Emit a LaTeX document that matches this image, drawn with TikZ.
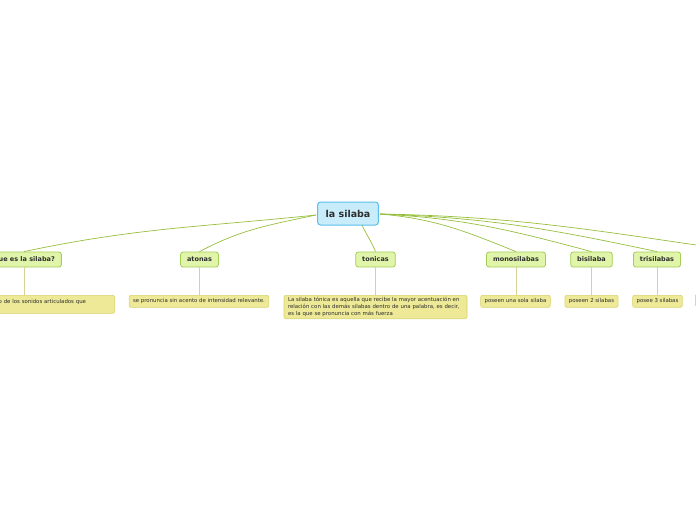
\documentclass[tikz,border=0pt]{standalone}
\usepackage{fontspec}
\setmainfont{DejaVu Sans}
\usetikzlibrary{positioning}
\definecolor{rootfill}{RGB}{200,236,250}
\definecolor{rootline}{RGB}{90,190,235}
\definecolor{topicfill}{RGB}{224,245,170}
\definecolor{topicline}{RGB}{165,205,85}
\definecolor{leaffill}{RGB}{237,233,150}
\definecolor{leafline}{RGB}{215,210,110}
\definecolor{branchgreen}{RGB}{150,190,60}
\definecolor{stemtan}{RGB}{215,210,150}
\definecolor{inktext}{RGB}{45,45,45}

\begin{document}
\begin{tikzpicture}[
    x=1pt, y=-1pt,
    every node/.style={text=inktext},
    raiz/.style={rectangle, rounded corners=3pt, draw=rootline, fill=rootfill,
        line width=1pt, inner xsep=8pt, minimum height=23pt,
        font=\fontsize{9.5}{11}\selectfont\bfseries},
    tema/.style={rectangle, rounded corners=2.5pt, draw=topicline, fill=topicfill,
        line width=0.8pt, inner xsep=6.5pt, minimum height=15pt,
        font=\fontsize{6.5}{8}\selectfont\bfseries},
    hoja/.style={rectangle, rounded corners=2pt, draw=leafline, fill=leaffill,
        line width=0.6pt, inner xsep=4pt, inner ysep=2pt, minimum height=12pt,
        font=\fontsize{5.4}{7}\selectfont, anchor=north},
    rama/.style={draw=branchgreen, line width=0.7pt},
    tallo/.style={draw=stemtan, line width=0.7pt},
]
\useasboundingbox (0,0) rectangle (696,520);
\clip (0,0) rectangle (696,520);

% ====== BRANCH ENDS ======
\coordinate (R-w) at (316,215);
\coordinate (R-e) at (380,214);
\coordinate (R-s) at (362,225);
\coordinate (extra) at (745,252);

% ====== TOPICS ======
\node[tema] (que)    at (24,259.5)    {Que es la silaba?};
\node[tema] (atonas) at (199.5,259.5) {atonas};
\node[tema] (tonicas) at (375.5,259.5) {tonicas};
\node[tema] (mono)   at (516,259.5)   {monosilabas};
\node[tema] (bi)     at (591.5,259.5) {bisilaba};
\node[tema] (tri)    at (657,259.5)   {trisilabas};

% ====== LEAVES ======
\node[hoja, anchor=north east, text width=112pt, align=left,
      text height=6pt, text depth=8pt] (que-h) at (115,295)
    {o de los sonidos articulados que};
\node[hoja] (atonas-h) at (199,295)
    {se pronuncia sin acento de intensidad relevante.};
\node[hoja, text width=175pt, align=left] (tonicas-h) at (375.5,295)
    {La silaba tónica es aquella que recibe la mayor acentuación en
     relación con las demás silabas dentro de una palabra, es decir,
     es la que se pronuncia con más fuerza};
\node[hoja] (mono-h) at (515.5,295) {poseen una sola silaba};
\node[hoja] (bi-h)   at (591.5,295) {poseen 2 silabas};
\node[hoja] (tri-h)  at (657.5,295) {posee 3 silabas};
\node[hoja, anchor=north west, minimum width=60pt] (extra-h) at (695,294) {};

\foreach \a/\b in {que/que-h, atonas/atonas-h, tonicas/tonicas-h,
    mono/mono-h, bi/bi-h, tri/tri-h}
    \draw[tallo] (\a.south) -- (\a.south |- \b.north);

\draw[rama] (R-w) to[out=186, in=12] (que.north);
\draw[rama] (R-w) to[out=192, in=28] (atonas.north);
\draw[rama] (R-s) to[out=-65, in=112] (tonicas.north);
\draw[rama] (R-e) to[out=-5, in=158] (mono.north);
\draw[rama] (R-e) to[out=-3, in=165] (bi.north);
\draw[rama] (R-e) to[out=-2, in=168] (tri.north);
\draw[rama] (R-e) to[out=-1, in=172] (extra);

% ====== ROOT ======
\node[raiz] (raiz) at (348,213.5) {la silaba};
\end{tikzpicture}
\end{document}
